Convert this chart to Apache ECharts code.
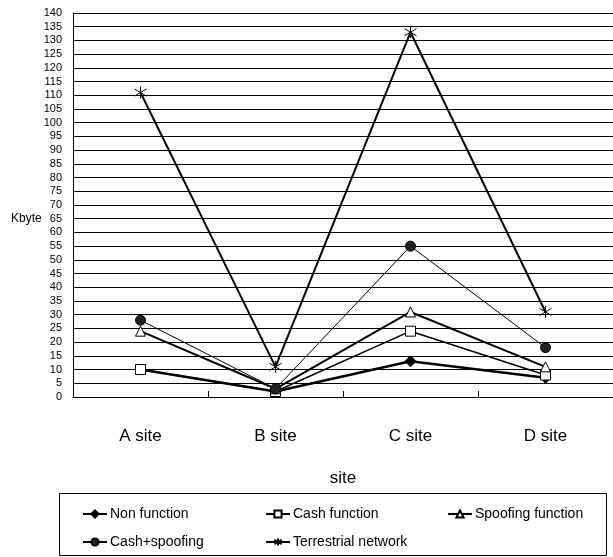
<!DOCTYPE html>
<html>
<head>
<meta charset="utf-8">
<script src="https://cdn.jsdelivr.net/npm/echarts@6/dist/echarts.min.js"></script>
<style>html,body{margin:0;padding:0;background:#fff}#c{width:613px;height:557px}</style>
</head>
<body>
<div id="c"></div>
<script>
var categories = ['A site', 'B site', 'C site', 'D site'];
var nonFunction = [10, 2, 13, 7];
var cashFunction = [10, 2, 24, 8];
var spoofingFunction = [24, 3, 31, 11];
var cashSpoofing = [28, 3, 55, 18];
var terrestrial = [111, 11, 133, 31];
var seriesNames = ['Non function', 'Cash function', 'Spoofing function', 'Cash+spoofing', 'Terrestrial network'];
var yAxisTitle = 'Kbyte';

var FONT = "'Liberation Sans Narrow', 'Liberation Sans', Arial, sans-serif";
var asterisk = 'path://M5 0 L5 10 M0 2 L10 8 M10 2 L0 8';

function mk(name, data, symbol, size, lw, fill, border) {
  return {
    name: name, type: 'line', data: data, symbol: symbol, symbolSize: size,
    lineStyle: { color: '#000', width: lw },
    itemStyle: { color: fill, borderColor: border || '#000', borderWidth: 1 },
    z: 3
  };
}

var chart = echarts.init(document.getElementById('c'));
var legendPos = [[82, 507], [265, 507], [447, 507], [82, 535], [265, 535]];
var legends = seriesNames.map(function (n, i) {
  return {
    data: [n], left: legendPos[i][0], top: legendPos[i][1], padding: 0,
    itemWidth: 24, itemHeight: 9, itemGap: 4,
    textStyle: { fontFamily: FONT, fontSize: 14, color: '#000', padding: [0, 0, 0, -2] }
  };
});
chart.setOption({
  animation: false,
  backgroundColor: '#fff',
  grid: { left: 73, right: 0, top: 13, bottom: 160 },
  legend: legends,
  xAxis: {
    type: 'category', data: categories, boundaryGap: true,
    name: 'site', nameLocation: 'middle', nameGap: 73,
    nameTextStyle: { fontFamily: FONT, fontSize: 17, color: '#000' },
    axisLine: { lineStyle: { color: '#000', width: 1 } },
    axisTick: { show: true, inside: true, length: 6, lineStyle: { color: '#000' } },
    axisLabel: { fontFamily: FONT, fontSize: 17, color: '#000', margin: 31 }
  },
  yAxis: {
    type: 'value', min: 0, max: 140, interval: 5,
    axisLine: { show: true, lineStyle: { color: '#000', width: 1 } },
    axisTick: { show: false },
    axisLabel: { fontFamily: FONT, fontSize: 11, color: '#000', margin: 11, lineHeight: 10 },
    splitLine: { show: true, lineStyle: { color: '#000', width: 1 } }
  },
  graphic: [{
    type: 'rect', shape: { x: 59.5, y: 493.5, width: 547, height: 62 },
    style: { fill: 'none', stroke: '#000', lineWidth: 1 }, silent: true
  }, {
    type: 'text', left: 11, top: 213,
    style: { text: yAxisTitle, font: '12px ' + FONT, fill: '#000' }, silent: true
  }],
  series: [
    mk(seriesNames[0], nonFunction, 'diamond', 11, 2.5, '#000'),
    mk(seriesNames[1], cashFunction, 'rect', 10, 1.5, '#fff'),
    mk(seriesNames[2], spoofingFunction, 'triangle', 10, 2, '#fff'),
    mk(seriesNames[3], cashSpoofing, 'circle', 10, 1, '#222'),
    mk(seriesNames[4], terrestrial, asterisk, 12, 2, 'none')
  ]
});
</script>
</body>
</html>
